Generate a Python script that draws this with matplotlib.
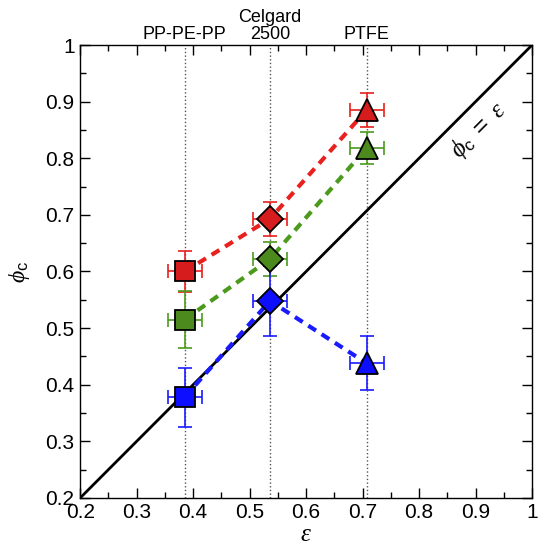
import matplotlib
matplotlib.use('Agg')
import matplotlib.pyplot as plt
from matplotlib.ticker import MultipleLocator

plt.rcParams['font.family'] = ['Liberation Sans', 'DejaVu Sans']
plt.rcParams['mathtext.fontset'] = 'custom'
plt.rcParams['mathtext.rm'] = 'Liberation Sans'
plt.rcParams['mathtext.it'] = 'Liberation Serif:italic'

membranes = ['PP-PE-PP', 'Celgard\n2500', 'PTFE']
porosity = [0.385, 0.536, 0.707]
markers = ['s', 'D', '^']
marker_sizes = [15, 13, 16]

red_phi = [0.600, 0.693, 0.885]
red_err = [0.036, 0.030, 0.030]
green_phi = [0.515, 0.622, 0.818]
green_err = [0.050, 0.030, 0.028]
blue_phi = [0.378, 0.548, 0.438]
blue_err = [0.052, 0.062, 0.048]
x_err = [0.03, 0.03, 0.03]

series = [
    (red_phi, red_err, '#e8201e', '#d61c1c'),
    (green_phi, green_err, '#4c9a1c', '#4d8a1e'),
    (blue_phi, blue_err, '#1a1aff', '#0d0dff'),
]

fig = plt.figure(figsize=(5.38, 5.49), dpi=100)
ax = fig.add_axes([0.149, 0.093, 0.840, 0.825])

ax.plot([0.2, 1], [0.2, 1], color='black', lw=2, zorder=2)
for xv in porosity:
    ax.axvline(xv, color='#555555', ls=':', lw=1, zorder=1)

for phi, err, lc, fc in series:
    ax.plot(porosity, phi, ls=(0, (2.2, 1.6)), color=lc, lw=3, zorder=3)
    for i in range(3):
        ax.errorbar(porosity[i], phi[i], yerr=err[i], xerr=x_err[i], fmt='none',
                    ecolor=lc, elinewidth=1.2, capsize=5, capthick=1.2, zorder=4)
        ax.plot(porosity[i], phi[i], marker=markers[i], ms=marker_sizes[i],
                mfc=fc, mec='black', mew=1.3, ls='none', zorder=5)

ax.set_xlim(0.2, 1)
ax.set_ylim(0.2, 1)
ax.xaxis.set_minor_locator(MultipleLocator(0.05))
ax.yaxis.set_minor_locator(MultipleLocator(0.05))
ax.tick_params(which='both', direction='in', top=True, right=True, labelsize=15, pad=4)
ax.tick_params(which='major', length=7, width=1)
ax.tick_params(which='minor', length=4, width=1)
ticks = [0.2, 0.3, 0.4, 0.5, 0.6, 0.7, 0.8, 0.9, 1.0]
tick_labels = ['0.2', '0.3', '0.4', '0.5', '0.6', '0.7', '0.8', '0.9', '1']
ax.set_xticks(ticks)
ax.set_yticks(ticks)
ax.set_xticklabels(tick_labels)
ax.set_yticklabels(tick_labels)

ax.set_xlabel(r'$\varepsilon$', fontsize=18, labelpad=0)
ax.set_ylabel(r'$\phi_{\mathrm{c}}$', fontsize=17, labelpad=10)

for name, xv in zip(membranes, porosity):
    ax.text(xv, 1.005, name, ha='center', va='bottom', fontsize=13,
            transform=ax.get_xaxis_transform(), linespacing=1.0)

ax.text(0.905, 0.85, r'$\phi_{\mathrm{c}}\ =\ \varepsilon$', rotation=45, fontsize=18,
        ha='center', va='center')

for s in ax.spines.values():
    s.set_linewidth(1)

fig.savefig('out.png', dpi=100)
